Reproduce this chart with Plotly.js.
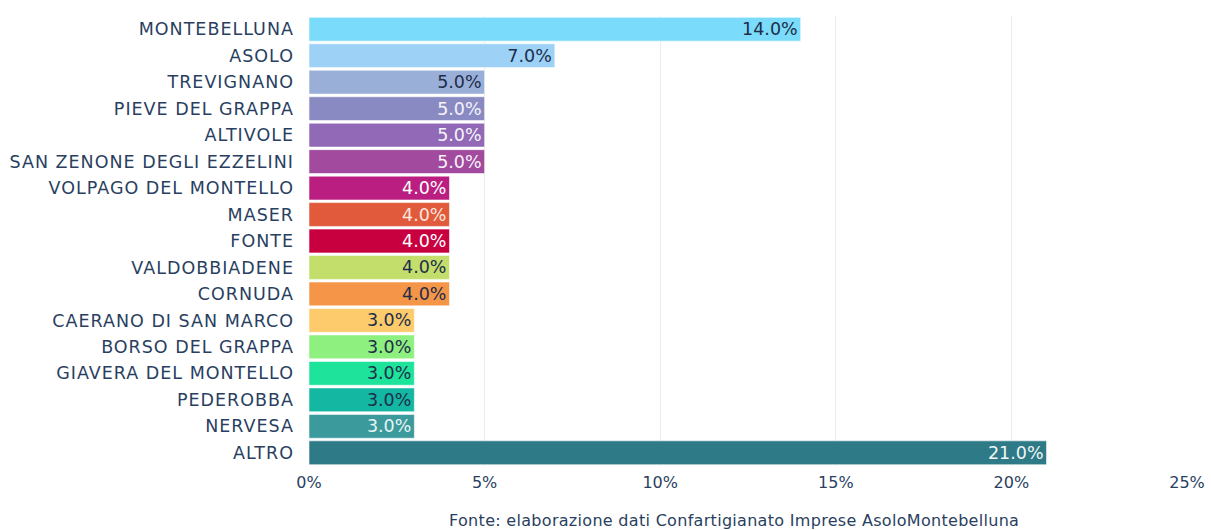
<!DOCTYPE html>
<html>
<head>
<meta charset="utf-8">
<script src="https://cdn.plot.ly/plotly-3.0.1.min.js"></script>
<style>html,body{margin:0;padding:0;background:#fff;}#chart{width:1211px;height:530px;}
#chart .ytick text{letter-spacing:1px;}
#chart .annotation-text{letter-spacing:0.3px;}</style>
</head>
<body>
<div id="chart"></div>
<script>
const categories = ["MONTEBELLUNA","ASOLO","TREVIGNANO","PIEVE DEL GRAPPA","ALTIVOLE","SAN ZENONE DEGLI EZZELINI","VOLPAGO DEL MONTELLO","MASER","FONTE","VALDOBBIADENE","CORNUDA","CAERANO DI SAN MARCO","BORSO DEL GRAPPA","GIAVERA DEL MONTELLO","PEDEROBBA","NERVESA","ALTRO"];
const values = [14.0,7.0,5.0,5.0,5.0,5.0,4.0,4.0,4.0,4.0,4.0,3.0,3.0,3.0,3.0,3.0,21.0];
const barColors = ["#7adcfa","#9dd2f6","#9aafd8","#8a8ac3","#9169b6","#a24a9e","#ba1e80","#e05a3b","#c9003f","#c3de6a","#f59548","#fdcb6b","#8ef07f","#1ee39b","#13b7a2","#3a9a9c","#2e7a86"];
const textColors = ["#1e2d4a","#1e2d4a","#1e2d4a","#f4f4fa","#f4f4fa","#f4f4fa","#ffffff","#fbe6de","#ffffff","#1e2d4a","#1e2d4a","#1e2d4a","#1e2d4a","#1e2d4a","#1e2d4a","#e8f4f4","#f0f6f7"];
const xTickVals = [0,5,10,15,20,25];
const xTickText = ["0%","5%","10%","15%","20%","25%"];
const sourceText = "Fonte: elaborazione dati Confartigianato Imprese AsoloMontebelluna";

const FONT = "DejaVu Sans, Open Sans, sans-serif";

const trace = {
  type: "bar",
  orientation: "h",
  x: values,
  y: categories,
  text: values.map(v => v.toFixed(1) + "%"),
  textposition: "inside",
  insidetextanchor: "end",
  constraintext: "none",
  textangle: 0,
  textfont: {family: FONT, size: 17.5, color: textColors},
  marker: {color: barColors, line: {color: "rgba(255,255,255,0.55)", width: 1}},
  hoverinfo: "none"
};

const layout = {
  width: 1211, height: 530,
  margin: {l: 309, r: 24, t: 16, b: 64},
  paper_bgcolor: "#ffffff", plot_bgcolor: "#ffffff",
  font: {family: FONT, color: "#2a3f5f"},
  bargap: 0.1,
  showlegend: false,
  xaxis: {
    range: [0, 25], tickvals: xTickVals, ticktext: xTickText,
    showgrid: true, gridcolor: "#ebebee", gridwidth: 1,
    zeroline: false, showline: false,
    tickfont: {size: 16, color: "#2a3f5f"}, ticks: "", ticklabelstandoff: 5
  },
  yaxis: {
    autorange: "reversed", type: "category",
    showgrid: false, zeroline: false, showline: false,
    tickfont: {size: 17.5, color: "#2a3f5f"}, ticks: "", ticklabelstandoff: 14
  },
  annotations: [{
    text: sourceText, xref: "paper", yref: "paper", x: 0.484, y: 0, yshift: -54,
    xanchor: "center", yanchor: "middle", showarrow: false,
    font: {size: 16, color: "#2a3f5f"}
  }]
};

Plotly.newPlot("chart", [trace], layout, {displayModeBar: false, staticPlot: true});
</script>
</body>
</html>
